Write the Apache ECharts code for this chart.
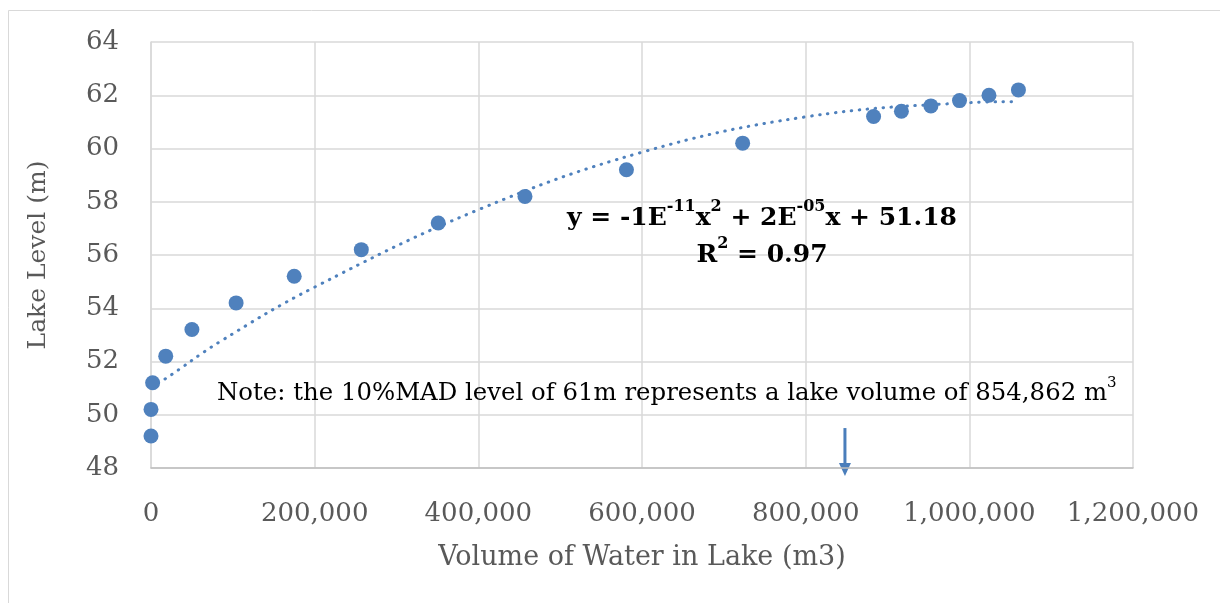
<!DOCTYPE html>
<html><head><meta charset="utf-8">
<script src="https://cdn.jsdelivr.net/npm/echarts@6/dist/echarts.min.js"></script>
<style>html,body{margin:0;padding:0;background:#fff}#c{width:1220px;height:603px}</style>
</head><body><div id="c"></div>
<script>
// Observed data: lake volume (m3) vs lake level (m)
const volumes = [0, 0, 2000, 18000, 50000, 104000, 175000, 257000, 351000, 457000, 581000, 723000, 883000, 917000, 953000, 988000, 1024000, 1060000];
const levels  = [49.2, 50.2, 51.2, 52.2, 53.2, 54.2, 55.2, 56.2, 57.2, 58.2, 59.2, 60.2, 61.2, 61.4, 61.6, 61.8, 62.0, 62.2];
// Trendline
const trendX = [0, 16500, 84000, 199000, 400000, 600000, 800000, 1000000, 1060000];
const trendY = [51.05, 51.33, 52.74, 54.78, 57.70, 59.86, 61.19, 61.72, 61.76];
const arrowVolume = 848000;
const yTitle = 'Lake Level (m)';
const xTitle = 'Volume of Water in Lake (m3)';

const blue = '#4f81bd';
const gray = '#595959';
const chart = echarts.init(document.getElementById('c'), null, {renderer: 'canvas'});
const option = {
  animation: false,
  backgroundColor: '#fff',
  grid: {left: 151, right: 87, top: 42, bottom: 135, containLabel: false},
  xAxis: {
    type: 'value', min: 0, max: 1200000, interval: 200000,
    name: xTitle, nameLocation: 'middle', nameGap: 76,
    nameTextStyle: {fontFamily: 'DejaVu Serif', fontSize: 27, color: gray},
    axisLine: {show: true, lineStyle: {color: '#bfbfbf', width: 1.5}},
    axisTick: {show: false},
    splitLine: {show: true, lineStyle: {color: '#d9d9d9', width: 1.5}},
    axisLabel: {fontFamily: 'DejaVu Serif', fontSize: 26, color: gray, margin: 33,
      formatter: v => v.toLocaleString('en-US')}
  },
  yAxis: {
    type: 'value', min: 48, max: 64, interval: 2,
    name: yTitle, nameLocation: 'middle', nameGap: 100, nameRotate: 90,
    nameTextStyle: {fontFamily: 'DejaVu Serif', fontSize: 25, color: gray},
    axisLine: {show: true, lineStyle: {color: '#d9d9d9', width: 1.5}},
    axisTick: {show: false},
    splitLine: {show: true, lineStyle: {color: '#d9d9d9', width: 1.5}},
    axisLabel: {fontFamily: 'DejaVu Serif', fontSize: 26, color: gray, margin: 32}
  },
  series: [
    {
      type: 'line', data: trendX.map((x, i) => [x, trendY[i]]), smooth: 0.4,
      symbol: 'none', z: 2,
      lineStyle: {color: blue, width: 3, type: [0.5, 7.5], cap: 'round'}
    },
    {
      type: 'scatter', data: volumes.map((x, i) => [x, levels[i]]),
      symbolSize: 15, z: 3,
      itemStyle: {color: blue, opacity: 1}
    }
  ]
};
chart.setOption(option);

const pTop = chart.convertToPixel({gridIndex: 0}, [arrowVolume, 49.5]);
const pBot = chart.convertToPixel({gridIndex: 0}, [arrowVolume, 47.7]);
const eqMain = {fontFamily: 'DejaVu Serif', fontWeight: 'bold', fontSize: 25, color: gray, lineHeight: 32, verticalAlign: 'bottom'};
const eqSup = {fontFamily: 'DejaVu Serif', fontWeight: 'bold', fontSize: 16, color: gray, lineHeight: 21, verticalAlign: 'top'};
chart.setOption({
  graphic: [
    {type: 'rect', shape: {x: 8.5, y: 10.5, width: 1230, height: 620}, style: {fill: 'none', stroke: '#d9d9d9', lineWidth: 1}, silent: true},
    {type: 'text', x: 762, y: 215, style: {
      text: '{m|y = -1E}{s|-11}{m|x}{s|2}{m| + 2E}{s|-05}{m|x + 51.18}',
      align: 'center', verticalAlign: 'middle', rich: {m: eqMain, s: eqSup}}},
    {type: 'text', x: 762, y: 252, style: {
      text: '{m|R}{s|2}{m| = 0.97}',
      align: 'center', verticalAlign: 'middle', rich: {m: eqMain, s: eqSup}}},
    {type: 'text', x: 217, y: 391, style: {
      text: '{m|Note: the 10%MAD level of 61m represents a lake volume of 854,862 m}{s|3}',
      align: 'left', verticalAlign: 'middle',
      rich: {
        m: {fontFamily: 'DejaVu Serif', fontSize: 24.4, color: '#000', lineHeight: 30, verticalAlign: 'bottom'},
        s: {fontFamily: 'DejaVu Serif', fontSize: 15, color: '#000', lineHeight: 20, verticalAlign: 'top'}
      }}},
    {type: 'line', shape: {x1: pTop[0], y1: pTop[1], x2: pBot[0], y2: pBot[1] - 10}, style: {stroke: '#4a7ebb', lineWidth: 3}},
    {type: 'polygon', shape: {points: [[pBot[0] - 6, pBot[1] - 13], [pBot[0] + 6, pBot[1] - 13], [pBot[0], pBot[1]]]}, style: {fill: '#4a7ebb'}}
  ]
});
</script></body></html>
